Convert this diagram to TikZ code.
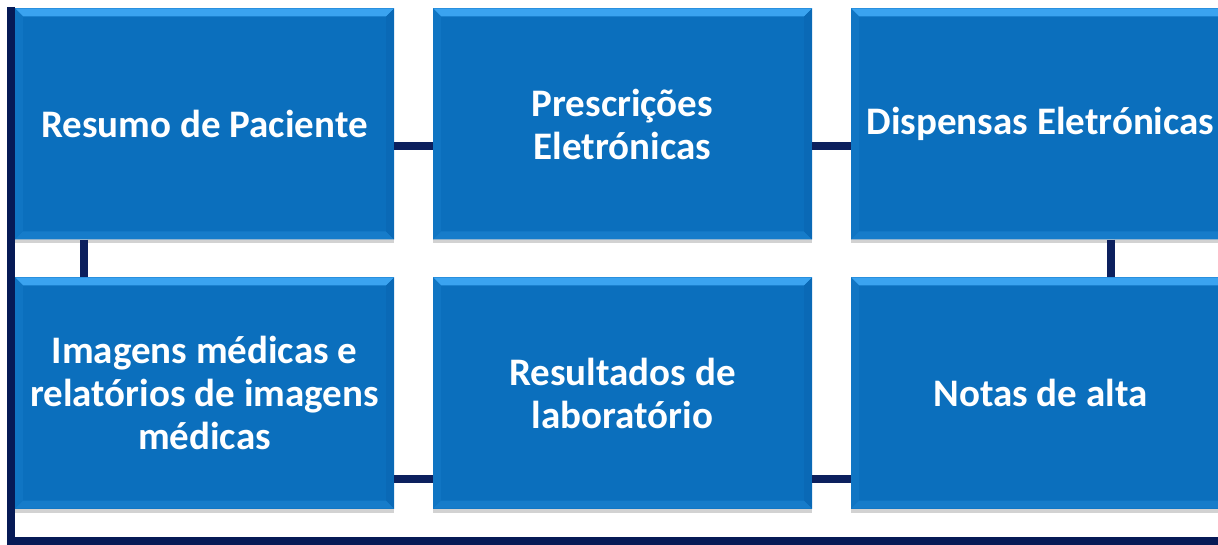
\documentclass[tikz,border=0pt]{standalone}
\usepackage{fontspec}
\setmainfont{Carlito}
\usetikzlibrary{calc}
\usetikzlibrary{positioning}
\usetikzlibrary{shadows}
\definecolor{boxBlue}{RGB}{11,111,189}
\definecolor{bevelTop}{RGB}{58,163,240}
\definecolor{bevelLeft}{RGB}{16,117,195}
\definecolor{bevelBottom}{RGB}{22,124,202}
\definecolor{bevelRight}{RGB}{10,105,182}
\definecolor{linkNavy}{RGB}{12,32,94}
\definecolor{frameNavy}{RGB}{6,26,86}
\tikzset{
	item/.style={rectangle, minimum width=379pt, minimum height=231pt, inner sep=0pt,
		fill=boxBlue, text=white, align=center,
		font=\fontsize{39}{43}\selectfont\bfseries,
		drop shadow={shadow xshift=0pt, shadow yshift=-4pt, opacity=0.25, fill=black!70},
		path picture={
			\def\bv{8pt}
			\fill[bevelTop] (path picture bounding box.north west) -- (path picture bounding box.north east)
				-- ($(path picture bounding box.north east)+(-\bv,-\bv)$) -- ($(path picture bounding box.north west)+(\bv,-\bv)$) -- cycle;
			\fill[bevelLeft] (path picture bounding box.north west) -- (path picture bounding box.south west)
				-- ($(path picture bounding box.south west)+(\bv,\bv)$) -- ($(path picture bounding box.north west)+(\bv,-\bv)$) -- cycle;
			\fill[bevelBottom] (path picture bounding box.south west) -- (path picture bounding box.south east)
				-- ($(path picture bounding box.south east)+(-\bv,\bv)$) -- ($(path picture bounding box.south west)+(\bv,\bv)$) -- cycle;
			\fill[bevelRight] (path picture bounding box.north east) -- (path picture bounding box.south east)
				-- ($(path picture bounding box.south east)+(-\bv,\bv)$) -- ($(path picture bounding box.north east)+(-\bv,-\bv)$) -- cycle;
		}},
	link/.style={draw=linkNavy, line width=8pt},
	frame/.style={draw=frameNavy, line width=8pt},
}
\begin{document}
\begin{tikzpicture}[x=1pt, y=-1pt]
		\def\dX{418}
		\def\dY{269}
		\useasboundingbox (0,0) rectangle (1218,545);

		% left and bottom rule
		\coordinate (fTop) at (11,7);
		\coordinate (fEnd) at (1230,541);
		\draw[frame] (fTop) |- (fEnd);

		% boxes
		\node[item] (b1) at (204.5,124) {Resumo de Paciente};
		\node[item] (b2) at ($(b1) + (\dX,0)$) {Prescrições\\Eletrónicas};
		\node[item] (b3) at ($(b2) + (\dX,0)$) {Dispensas Eletrónicas};
		\node[item] (b4) at ($(b1) + (0,\dY)$) {Imagens médicas e\\relatórios de imagens\\médicas};
		\node[item] (b5) at ($(b4) + (\dX,0)$) {Resultados de\\laboratório};
		\node[item] (b6) at ($(b5) + (\dX,0)$) {Notas de alta};

		% connectors
		\coordinate (rowA) at (0,146);
		\coordinate (rowB) at (0,479);
		\coordinate (colA) at (84,0);
		\coordinate (colC) at (1111,0);
		\draw[link] (b1.east |- rowA) -- (b2.west |- rowA);
		\draw[link] (b2.east |- rowA) -- (b3.west |- rowA);
		\draw[link] (b1.south -| colA) -- (b4.north -| colA);
		\draw[link] (b3.south -| colC) -- (b6.north -| colC);
		\draw[link] (b4.east |- rowB) -- (b5.west |- rowB);
		\draw[link] (b5.east |- rowB) -- (b6.west |- rowB);
\end{tikzpicture}
\end{document}
